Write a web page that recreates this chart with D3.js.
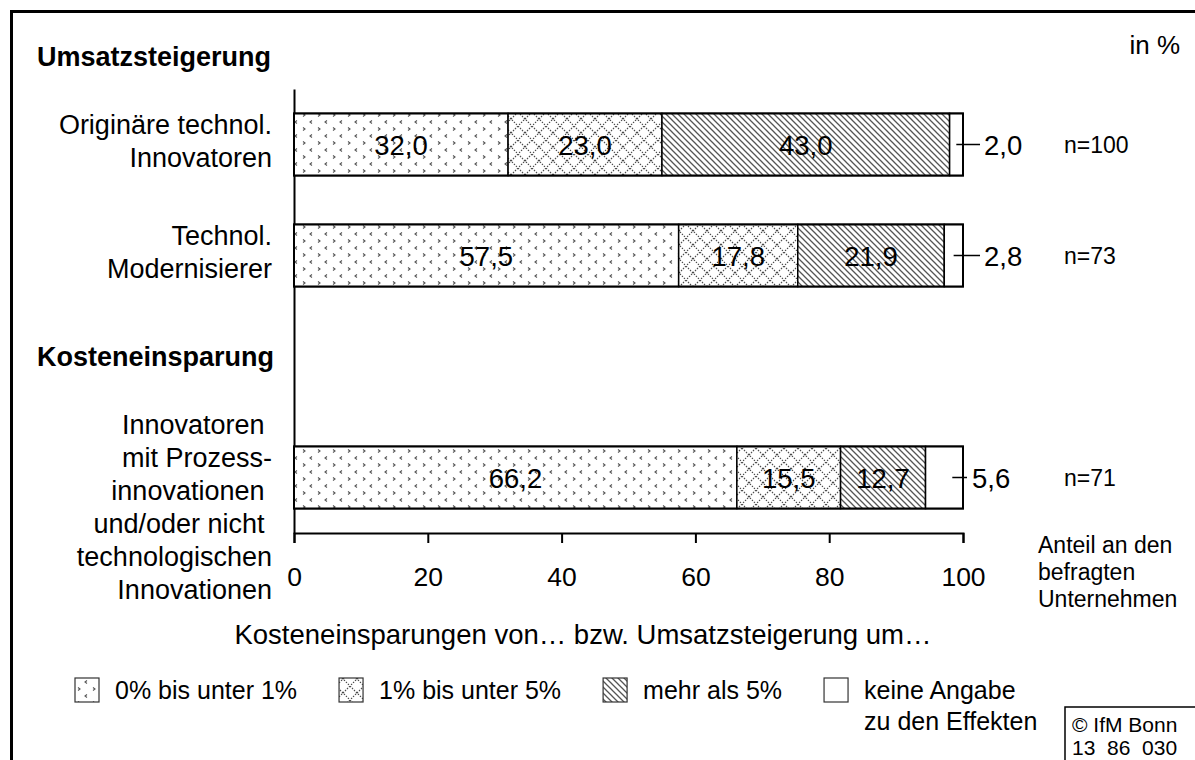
<!DOCTYPE html>
<html>
<head>
<meta charset="utf-8">
<script src="https://cdn.jsdelivr.net/npm/d3@7"></script>
<style>
  body { margin: 0; background: #fff; }
  svg text { font-family: "Liberation Sans", Arial, Helvetica, sans-serif; fill: #000; white-space: pre; }
</style>
</head>
<body>
<div id="chart"></div>
<script>
// values
var groups = ["Umsatzsteigerung", "Kosteneinsparung"];
var categories = ["Originäre technol. Innovatoren", "Technol. Modernisierer",
  "Innovatoren mit Prozessinnovationen und/oder nicht technologischen Innovationen"];
var categoryLines = [
  ["Originäre technol.", "Innovatoren"],
  ["Technol.", "Modernisierer"],
  ["Innovatoren ", "mit Prozess-", "innovationen ", "und/oder nicht ", "technologischen", "Innovationen"]
];
var seriesKeys = ["u1", "u5", "m5", "ka"];
var seriesNames = [["0% bis unter 1%"], ["1% bis unter 5%"], ["mehr als 5%"], ["keine Angabe", "zu den Effekten"]];
var under1 = [32.0, 57.5, 66.2];
var from1to5 = [23.0, 17.8, 15.5];
var over5 = [43.0, 21.9, 12.7];
var noAnswer = [2.0, 2.8, 5.6];
var sampleSize = [100, 73, 71];
var xTicks = [0, 20, 40, 60, 80, 100];

var W = 1195, H = 760;
var font = "'Liberation Sans', Arial, sans-serif";
var de = d3.formatLocale({ decimal: ",", thousands: ".", grouping: [3], currency: ["", " €"] });
var fmt = de.format(".1f");

var svg = d3.select("#chart").append("svg")
  .attr("width", W)
  .attr("height", H);

// patterns
var defs = svg.append("defs");
var pDots = defs.append("pattern").attr("id", "p-u1").attr("patternUnits", "userSpaceOnUse")
  .attr("width", 15).attr("height", 14);
pDots.append("rect").attr("width", 15).attr("height", 14).attr("fill", "#fff");
pDots.append("path").attr("d", "M3,1.5 l2,1.5 l-2,1.5 M12,8.5 l-2,1.5 l2,1.5")
  .attr("fill", "none").attr("stroke", "#555").attr("stroke-width", 1.1);

var pCross = defs.append("pattern").attr("id", "p-u5").attr("patternUnits", "userSpaceOnUse")
  .attr("width", 14).attr("height", 14);
pCross.append("rect").attr("width", 14).attr("height", 14).attr("fill", "#fff");
pCross.append("path").attr("d", "M0,0 L14,14 M14,0 L0,14")
  .attr("stroke", "#444").attr("stroke-width", 1.1).attr("stroke-dasharray", "1.5,1.3");

var pHatch = defs.append("pattern").attr("id", "p-m5").attr("patternUnits", "userSpaceOnUse")
  .attr("width", 6).attr("height", 6);
pHatch.append("rect").attr("width", 6).attr("height", 6).attr("fill", "#fff");
pHatch.append("path").attr("d", "M0,0 L6,6 M-1,5 L1,7 M5,-1 L7,1")
  .attr("stroke", "#555").attr("stroke-width", 1.3);

var fills = { u1: "url(#p-u1)", u5: "url(#p-u5)", m5: "url(#p-m5)", ka: "#fff" };

// frame
svg.append("line").attr("x1", 10).attr("x2", W).attr("y1", 11.5).attr("y2", 11.5)
  .attr("stroke", "#000").attr("stroke-width", 3);
svg.append("line").attr("x1", 11.5).attr("x2", 11.5).attr("y1", 10).attr("y2", H)
  .attr("stroke", "#000").attr("stroke-width", 3);

// scales
var x = d3.scaleLinear().domain([0, 100]).range([294, 963]);
var slots = [categories[0], categories[1], groups[1], categories[2]];
var y = d3.scaleBand().domain(slots).range([89, 533]).paddingInner(0.44).paddingOuter(0.22);
var bw = y.bandwidth();

var table = categories.map(function (c, i) {
  return { cat: c, u1: under1[i], u5: from1to5[i], m5: over5[i], ka: noAnswer[i], n: sampleSize[i], i: i };
});
var stacked = d3.stack().keys(seriesKeys)(table);

// vertical axis line
var yAxis = svg.append("g").attr("transform", "translate(" + x(0) + ",0)")
  .call(d3.axisLeft(y).tickSize(0).tickFormat(""));
yAxis.select(".domain").attr("stroke", "#000").attr("stroke-width", 2);

// x axis
var xAxis = svg.append("g").attr("transform", "translate(0,533)")
  .call(d3.axisBottom(x).tickValues(xTicks).tickSize(10).tickFormat(d3.format("d")));
xAxis.select(".domain").attr("stroke", "#000").attr("stroke-width", 2);
xAxis.selectAll(".tick line").attr("stroke", "#000").attr("stroke-width", 2);
xAxis.selectAll(".tick text").attr("y", 53).attr("dy", 0)
  .style("font-family", font).style("font-size", "26.5px");

// bars
var layer = svg.selectAll("g.layer").data(stacked).enter().append("g")
  .attr("class", "layer")
  .attr("fill", function (s) { return fills[s.key]; });
layer.selectAll("rect").data(function (s) { return s; }).enter().append("rect")
  .attr("x", function (d) { return x(d[0]); })
  .attr("y", function (d) { return y(d.data.cat); })
  .attr("width", function (d) { return x(d[1]) - x(d[0]); })
  .attr("height", bw)
  .attr("stroke", "#000")
  .attr("stroke-width", 1.5);

svg.selectAll("rect.outline").data(table).enter().append("rect")
  .attr("class", "outline")
  .attr("x", x(0))
  .attr("y", function (d) { return y(d.cat); })
  .attr("width", function (d) { return x(d.u1 + d.u5 + d.m5 + d.ka) - x(0); })
  .attr("height", bw)
  .attr("fill", "none").attr("stroke", "#000").attr("stroke-width", 2);

// value labels inside
stacked.slice(0, 3).forEach(function (s) {
  svg.selectAll(null).data(s).enter().append("text")
    .attr("x", function (d) { return (x(d[0]) + x(d[1])) / 2; })
    .attr("y", function (d) { return y(d.data.cat) + bw / 2 + 10; })
    .attr("text-anchor", "middle")
    .style("font-size", "27.5px")
    .text(function (d) { return fmt(d[1] - d[0]); });
});

// leader lines for "keine Angabe"
var ka = stacked[3];
svg.selectAll("line.leader").data(ka).enter().append("line")
  .attr("class", "leader")
  .attr("x1", function (d) { return x(d[1] - Math.min((d[1] - d[0]) / 2, 1.6)); })
  .attr("x2", function (d) { return x(d[1]) + ((d[1] - d[0]) < 4 ? 17 : 4); })
  .attr("y1", function (d) { return y(d.data.cat) + bw / 2; })
  .attr("y2", function (d) { return y(d.data.cat) + bw / 2; })
  .attr("stroke", "#000").attr("stroke-width", 1.5);
svg.selectAll("text.ka").data(ka).enter().append("text")
  .attr("class", "ka")
  .attr("x", function (d) { return x(d[1]) + ((d[1] - d[0]) < 4 ? 21 : 9); })
  .attr("y", function (d) { return y(d.data.cat) + bw / 2 + 10; })
  .style("font-size", "27.5px")
  .text(function (d) { return fmt(d[1] - d[0]); });

// n labels
svg.selectAll("text.n").data(table).enter().append("text")
  .attr("class", "n")
  .attr("x", 1064)
  .attr("y", function (d) { return y(d.cat) + bw / 2 + 8; })
  .style("font-size", "23px")
  .text(function (d) { return "n=" + d.n; });

// category labels
table.forEach(function (d) {
  var lines = categoryLines[d.i];
  var first = y(d.cat) + bw / 2 - 10.5 - (lines.length > 2 ? 33 : 0);
  var t = svg.append("text").attr("text-anchor", "end").style("font-size", "27px");
  lines.forEach(function (l, k) {
    t.append("tspan").attr("x", 272).attr("y", first + k * 33).text(l);
  });
});

// group headers
svg.append("text").attr("x", 37).attr("y", y(categories[0]) - 47)
  .style("font-size", "27px").style("font-weight", "bold").text(groups[0]);
svg.append("text").attr("x", 37).attr("y", y(groups[1]) + bw / 2 - 1)
  .style("font-size", "27px").style("font-weight", "bold").text(groups[1]);

svg.append("text").attr("x", 1180).attr("y", 54).attr("text-anchor", "end")
  .style("font-size", "26px").text("in %");

// axis texts
svg.append("text").attr("x", 583).attr("y", 644).attr("text-anchor", "middle")
  .style("font-size", "27.5px").text("Kosteneinsparungen von… bzw. Umsatzsteigerung um…");
var share = svg.append("text").style("font-size", "23px");
["Anteil an den", "befragten", "Unternehmen"].forEach(function (l, k) {
  share.append("tspan").attr("x", 1038).attr("y", 553 + k * 27).text(l);
});

// legend
var lx = 75;
seriesKeys.forEach(function (key, i) {
  svg.append("rect").attr("x", lx).attr("y", 678).attr("width", 24).attr("height", 24)
    .attr("fill", fills[key]).attr("stroke", "#333").attr("stroke-width", 1.2);
  var t = svg.append("text").style("font-size", "25px");
  seriesNames[i].forEach(function (l, k) {
    t.append("tspan").attr("x", lx + 40).attr("y", 699 + k * 31).text(l);
  });
  lx += 40 + t.node().getBBox().width + 42;
});

// source box
svg.append("rect").attr("x", 1065).attr("y", 707).attr("width", 200).attr("height", 100)
  .attr("fill", "#fff").attr("stroke", "#000").attr("stroke-width", 1.5);
var src = svg.append("text").style("font-size", "21px");
src.append("tspan").attr("x", 1072).attr("y", 732).text("© IfM Bonn");
src.append("tspan").attr("x", 1072).attr("y", 755).text("13  86  030");
</script>
</body>
</html>
